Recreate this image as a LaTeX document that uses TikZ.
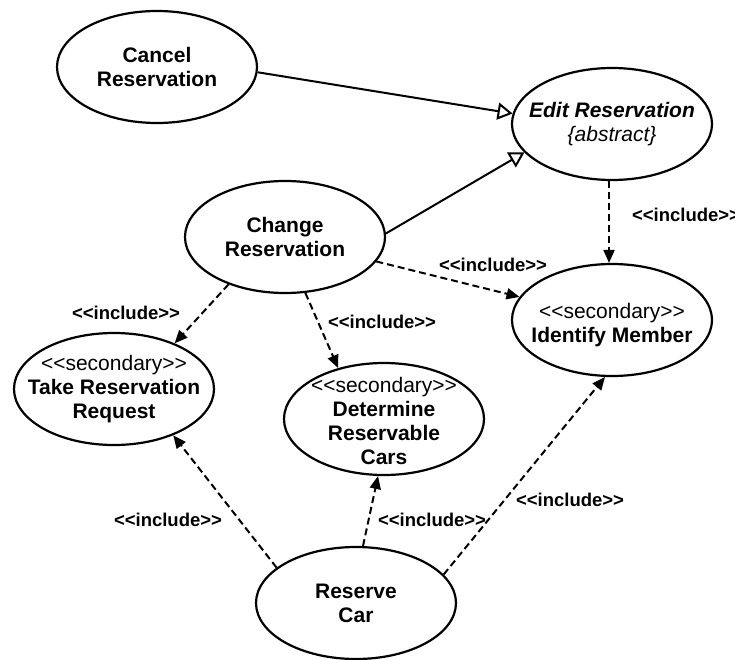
\documentclass[tikz,border=0pt]{standalone}
\usepackage{fontspec}
\setmainfont{Liberation Sans}[Ligatures=TeXOff]
\usetikzlibrary{shapes.geometric,arrows.meta}
\begin{document}
\begin{tikzpicture}[x=1pt,y=-1pt,
  uc/.style={ellipse,draw,line width=2.2pt,fill=white,minimum width=200pt,minimum height=112pt,inner sep=0pt},
  uctext/.style={align=center,inner sep=0pt,font=\fontsize{21}{24}\selectfont},
  inc/.style={inner sep=0pt,font=\fontsize{18.5}{22}\selectfont\bfseries},
  incl/.style={line width=2pt,dash pattern=on 7pt off 4pt,-{Triangle[length=13pt,width=11pt]}},
  gen/.style={line width=2pt,-{Triangle[open,length=15pt,width=17pt,fill=white]}}
]
\useasboundingbox (0,0) rectangle (735,660);

% use cases
\node[uc] (cancel) at (157,67) {};
\node[uc] (edit) at (612,124) {};
\node[uc] (change) at (285,237) {};
\node[uc] (take) at (114,389) {};
\node[uc] (determine) at (384,419) {};
\node[uc] (identify) at (612,320) {};
\node[uc] (reserve) at (356,603) {};

% use case names
\node[uctext] (cancel-t) at (cancel) {\textbf{Cancel}\\\textbf{Reservation}};
\node[uctext] (edit-t) at (edit) {\textbf{\textit{Edit Reservation}}\\\textit{\{abstract\}}};
\node[uctext] (change-t) at (change) {\textbf{Change}\\\textbf{Reservation}};
\node[uctext] (take-t) at (take) {<<secondary>>\\\textbf{Take Reservation}\\\textbf{Request}};
\node[uctext] (determine-t) at (384,421) {<<secondary>>\\\textbf{Determine}\\\textbf{Reservable}\\\textbf{Cars}};
\node[uctext] (identify-t) at (612,325) {<<secondary>>\\\textbf{Identify Member}};
\node[uctext] (reserve-t) at (reserve) {\textbf{Reserve}\\\textbf{Car}};

% generalizations
\draw[gen] (cancel.-3) -- (edit.174);
\draw[gen] (change.2) -- (edit.198);

% include relations
\draw[incl] (edit.-93) -- (identify.93);
\draw[incl] (change.-15.5) -- (identify.166);
\draw[incl] (change.220) -- (take.37);
\draw[incl] (change.-70) -- (determine.132);
\draw[incl] (reserve.156) -- (take.-38);
\draw[incl] (reserve.83) -- (determine.-96);
\draw[incl] (reserve.18.6) -- (identify.-97);

% stereotype labels
\node[inc] (l-ei) at (686,215) {<<include>>};
\node[inc] (l-ci) at (493,265) {<<include>>};
\node[inc] (l-ct) at (126,313) {<<include>>};
\node[inc] (l-cd) at (382,322) {<<include>>};
\node[inc] (l-rt) at (168,520) {<<include>>};
\node[inc] (l-rd) at (432,520) {<<include>>};
\node[inc] (l-ri) at (570,500) {<<include>>};
\end{tikzpicture}
\end{document}
